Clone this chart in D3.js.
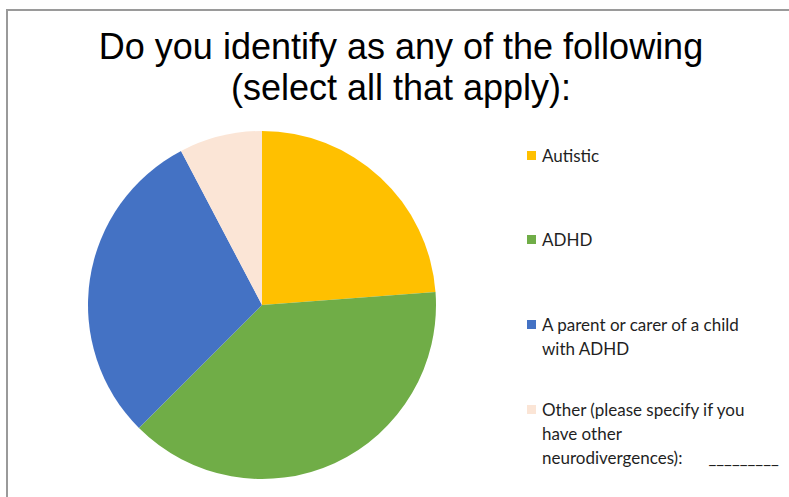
<!DOCTYPE html>
<html>
<head>
<meta charset="utf-8">
<script src="https://cdn.jsdelivr.net/npm/d3@7"></script>
<style>
  body { margin: 0; background: #fff; }
  svg { display: block; }
</style>
</head>
<body>
<svg id="chart"></svg>
<script>
// values (share of answers, %)
// "\n" marks where the legend text breaks in the original
const categories = [
  "Autistic",
  "ADHD",
  "A parent or carer of a child\nwith ADHD",
  "Other (please specify if you\nhave other\nneurodivergences):      _________"
];
const values = [23.8, 38.7, 29.8, 7.7];
const colors = ["#ffc000", "#70ad47", "#4472c4", "#fbe5d6"];
const titleLines = ["Do you identify as any of the following", "(select all that apply):"];

const width = 789;
const height = 497;
const svg = d3.select("#chart").attr("width", width).attr("height", height);

// frame (chart area border, only top & left visible)
svg.append("rect")
  .attr("x", 7).attr("y", 10)
  .attr("width", width + 10).attr("height", height + 10)
  .attr("fill", "none")
  .attr("stroke", "#9a9a9a")
  .attr("stroke-width", 2);

// title
svg.append("g")
  .selectAll("text")
  .data(titleLines)
  .enter()
  .append("text")
  .attr("x", 401)
  .attr("y", (d, i) => 59 + i * 41)
  .attr("text-anchor", "middle")
  .style("font-family", "'Liberation Sans', Arial, sans-serif")
  .style("font-size", "36px")
  .attr("fill", "#000")
  .text((d) => d);

// pie
const cx = 262, cy = 305, r = 174;
const pie = d3.pie().sort(null).value((d) => d);
const arc = d3.arc().innerRadius(0).outerRadius(r);

svg.append("g")
  .attr("transform", `translate(${cx},${cy})`)
  .selectAll("path")
  .data(pie(values))
  .enter()
  .append("path")
  .attr("d", arc)
  .attr("fill", (d, i) => colors[i]);

// legend
const legendX = 527;
const legendY = [156, 240, 325, 410];
const lineH = 24;

const legend = svg.append("g")
  .style("font-family", "Lato, 'Open Sans', sans-serif")
  .style("font-size", "17px")
  .attr("fill", "#1f1f1f");

categories.forEach((label, i) => {
  const g = legend.append("g").attr("transform", `translate(${legendX},${legendY[i]})`);
  g.append("rect")
    .attr("x", 0).attr("y", -5)
    .attr("width", 9).attr("height", 9)
    .attr("fill", colors[i]);

  g.append("text")
    .attr("y", 6)
    .style("white-space", "pre")
    .selectAll("tspan")
    .data(label.split("\n"))
    .enter()
    .append("tspan")
    .attr("x", 15)
    .attr("dy", (d, j) => (j === 0 ? 0 : lineH))
    .text((d) => d);
});
</script>
</body>
</html>
